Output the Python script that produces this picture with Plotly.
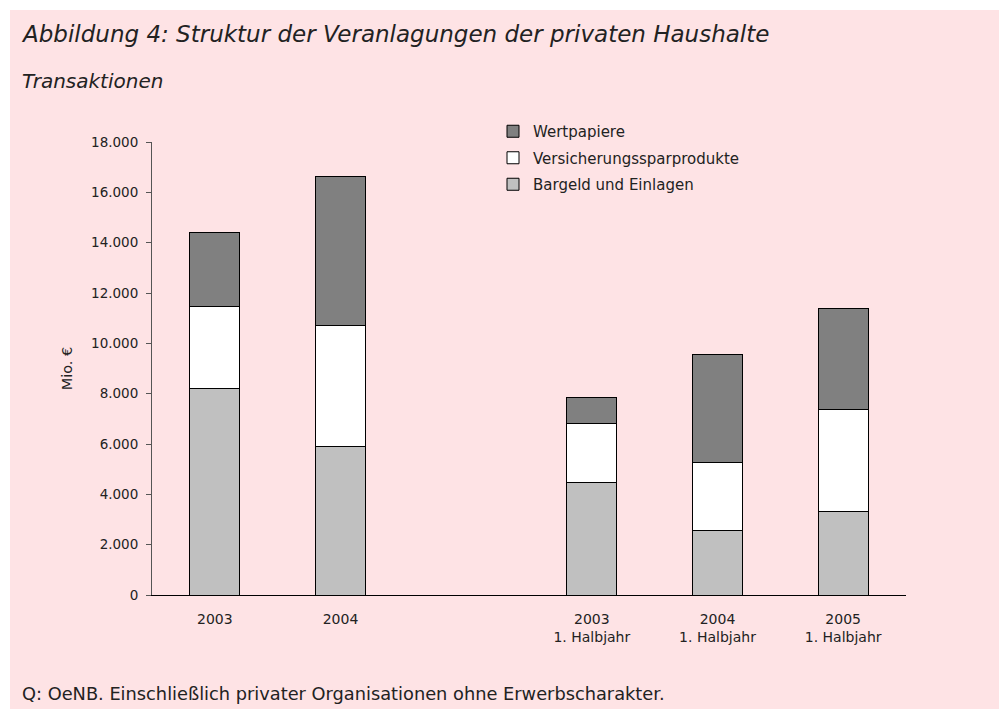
import plotly.graph_objects as go

categories = ["2003", "2004", " ", "2003<br>1. Halbjahr", "2004<br>1. Halbjahr", "2005<br>1. Halbjahr"]
bar_categories = ["2003", "2004", "2003<br>1. Halbjahr", "2004<br>1. Halbjahr", "2005<br>1. Halbjahr"]
bargeld = [8190, 5920, 4480, 2550, 3310]
versicherung = [3290, 4800, 2340, 2710, 4060]
wertpapiere = [2920, 5900, 1030, 4290, 4000]
y_ticks = [0, 2000, 4000, 6000, 8000, 10000, 12000, 14000, 16000, 18000]
y_tick_labels = ["0", "2.000", "4.000", "6.000", "8.000", "10.000", "12.000", "14.000", "16.000", "18.000"]

PAGE_W, PAGE_H = 999, 709
W, H = PAGE_W, PAGE_H
# plot area in page pixels
PL, PR, PT, PB = 152, 906, 142, 595
FONT = "DejaVu Sans"
TXT = "#222222"
PINK = "#FEE3E5"


def px2x(px):
    return (px - PL) / (PR - PL)


def py2y(py):
    return (PB - py) / (PB - PT)


fig = go.Figure()
series = [
    ("Bargeld und Einlagen", bargeld, "#C0C0C0", 3),
    ("Versicherungssparprodukte", versicherung, "#FFFFFF", 2),
    ("Wertpapiere", wertpapiere, "#808080", 1),
]
for name, vals, col, rank in series:
    fig.add_trace(go.Bar(
        x=bar_categories, y=vals, name=name, legendgroup=name, legendrank=rank,
        marker=dict(color=col, line=dict(color="#000000", width=1)),
        width=0.4,
    ))

fig.update_layout(
    width=W, height=H,
    barmode="stack",
    paper_bgcolor="#FFFFFF",
    plot_bgcolor="rgba(0,0,0,0)",
    margin=dict(l=PL, r=PAGE_W - PR, t=PT, b=PAGE_H - PB, pad=0),
    font=dict(family=FONT, size=13, color=TXT),
    showlegend=True,
    legend=dict(
        x=px2x(493), y=py2y(115), xanchor="left", yanchor="top",
        traceorder="grouped", tracegroupgap=4,
        bgcolor="rgba(0,0,0,0)", font=dict(size=15, color=TXT),
        itemwidth=30,
    ),
    xaxis=dict(
        type="category", categoryorder="array", categoryarray=categories,
        range=[-0.5, 5.5], showline=True, linecolor="#000000", linewidth=1,
        ticks="", showgrid=False, zeroline=False,
        tickfont=dict(size=14, color=TXT), ticklabelstandoff=11,
    ),
    yaxis=dict(
        range=[0, 18000], tickvals=y_ticks, ticktext=y_tick_labels,
        showline=True, linecolor="#555555", linewidth=1,
        ticks="outside", ticklen=5, tickcolor="#555555",
        showgrid=False, zeroline=False,
        tickfont=dict(size=13.5, color=TXT), ticklabelstandoff=5,
        title=dict(text="Mio. €", font=dict(size=14.5, color=TXT), standoff=14),
    ),
    shapes=[dict(
        type="rect", xref="paper", yref="paper", layer="below",
        x0=px2x(10), x1=px2x(PAGE_W + 20), y0=py2y(PAGE_H + 20), y1=py2y(10),
        fillcolor=PINK, line=dict(width=0),
    )],
    annotations=[
        dict(text="<i>Abbildung 4: Struktur der Veranlagungen der privaten Haushalte</i>",
             xref="paper", yref="paper", x=px2x(19), y=py2y(34),
             xanchor="left", yanchor="middle", showarrow=False,
             font=dict(size=23, color=TXT, family=FONT)),
        dict(text="<i>Transaktionen</i>",
             xref="paper", yref="paper", x=px2x(20), y=py2y(81),
             xanchor="left", yanchor="middle", showarrow=False,
             font=dict(size=20, color=TXT, family=FONT)),
        dict(text="Q: OeNB. Einschließlich privater Organisationen ohne Erwerbscharakter.",
             xref="paper", yref="paper", x=px2x(20), y=py2y(693),
             xanchor="left", yanchor="middle", showarrow=False,
             font=dict(size=17.8, color=TXT, family=FONT)),
    ],
)

fig.write_html(
    "out.html",
    config={"displayModeBar": False},
    post_script="document.body.style.margin='0px';document.body.style.overflow='hidden';",
)
